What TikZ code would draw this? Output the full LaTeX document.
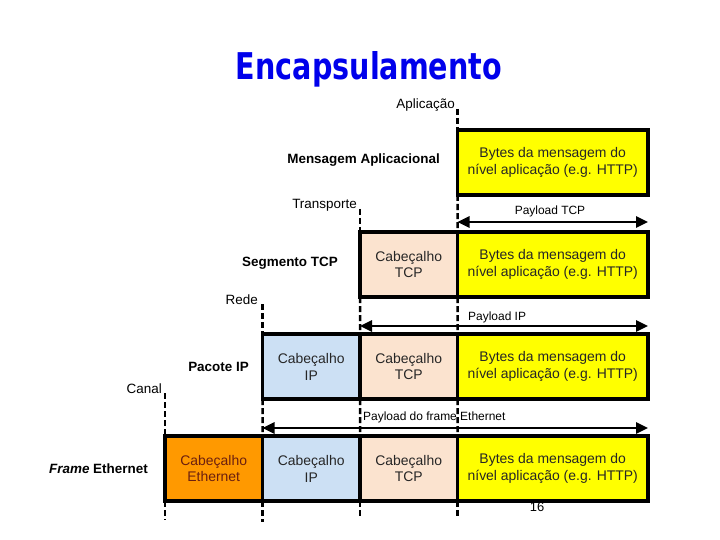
\documentclass[tikz,border=0pt]{standalone}
\usepackage{fontspec}
\setmainfont{Liberation Sans}
\newfontfamily\titlefont{DejaVu Sans}
\usetikzlibrary{arrows.meta}

\definecolor{titleblue}{RGB}{0,0,235}
\definecolor{datayellow}{HTML}{FFFF00}
\definecolor{tcpfill}{HTML}{FBE3CF}
\definecolor{ipfill}{HTML}{CCE0F4}
\definecolor{ethfill}{HTML}{FF9900}
\definecolor{ethtext}{HTML}{6B1F10}

\begin{document}
\begin{tikzpicture}[x=1bp, y=-1bp,
    cell/.style={draw, line width=3.5bp, minimum height=65bp, inner sep=0pt, outer sep=0pt,
                 anchor=north west, align=center, text=black!85, font=\fontsize{14}{17}\selectfont},
    hdrcell/.style={cell, minimum width=97.5bp},
    datacell/.style={cell, fill=datayellow, minimum width=190.5bp},
    layer/.style={inner sep=0pt, font=\fontsize{13.5}{16}\selectfont},
    pdu/.style={inner sep=0pt, anchor=east, font=\bfseries\fontsize{13.5}{16}\selectfont},
    plabel/.style={inner sep=0pt, font=\fontsize{12}{14}\selectfont},
    guide/.style={line width=2.5bp, dash pattern=on 6bp off 3bp},
    span/.style={line width=2.5bp, {Triangle[length=12bp,width=11bp]}-{Triangle[length=12bp,width=11bp]}}]

    \useasboundingbox (0,0) rectangle (720,540);

    % Title
    \node[text=titleblue, inner sep=0pt, anchor=base] (title) at (369,80)
        {\resizebox{266bp}{28bp}{\titlefont\bfseries Encapsulamento}};

    % Page number (partly under the last row)
    \node[font=\fontsize{13}{15}\selectfont, inner sep=0pt] (pageno) at (537,507) {16};

    % Application layer
    \node[pdu] (pduMsg) at (440,160) {Mensagem Aplicacional};
    \node[datacell] (appData) at (457.5,130) {Bytes da mensagem do\\n\'ivel aplica\c{c}\~ao (e.g. HTTP)};

    % Transport layer
    \node[pdu] (pduSeg) at (338,263) {Segmento TCP};
    \node[hdrcell, fill=tcpfill] (tcpHdr) at (360,232) {Cabe\c{c}alho\\TCP};
    \node[datacell] (tcpData) at (tcpHdr.north east) {Bytes da mensagem do\\n\'ivel aplica\c{c}\~ao (e.g. HTTP)};

    % Network layer
    \node[pdu] (pduPkt) at (249,367) {Pacote IP};
    \node[hdrcell, fill=ipfill] (ipHdr) at (262.5,334) {Cabe\c{c}alho\\IP};
    \node[hdrcell, fill=tcpfill] (ipTcp) at (ipHdr.north east) {Cabe\c{c}alho\\TCP};
    \node[datacell] (ipData) at (ipTcp.north east) {Bytes da mensagem do\\n\'ivel aplica\c{c}\~ao (e.g. HTTP)};

    % Link layer
    \node[pdu] (pduFrame) at (148,469) {\itshape Frame\upshape{} Ethernet};
    \node[hdrcell, fill=ethfill, text=ethtext] (ethHdr) at (165,436) {Cabe\c{c}alho\\Ethernet};
    \node[hdrcell, fill=ipfill] (ethIp) at (ethHdr.north east) {Cabe\c{c}alho\\IP};
    \node[hdrcell, fill=tcpfill] (ethTcp) at (ethIp.north east) {Cabe\c{c}alho\\TCP};
    \node[datacell] (ethData) at (ethTcp.north east) {Bytes da mensagem do\\n\'ivel aplica\c{c}\~ao (e.g. HTTP)};

    % Layer names
    \node[layer, anchor=base east] (lApp) at (455,109) {Aplica\c{c}\~ao};
    \node[layer, anchor=base east] (lTransp) at (357,209) {Transporte};
    \node[layer, anchor=base east] (lRede) at (258,304) {Rede};
    \node[layer, anchor=base east] (lCanal) at (162,393) {Canal};

    % Payload labels
    \node[plabel] (pTcp) at (550,211) {Payload TCP};
    \node[plabel, anchor=west] (pIp) at (468,317) {Payload IP};
    \node[plabel, anchor=west] (pEth) at (363,417) {Payload do frame Ethernet};

    % Payload spans
    \draw[span] ([yshift=10bp]tcpData.north west) -- ([yshift=10bp]tcpData.north east);
    \draw[span] ([yshift=8bp]ipTcp.north west) -- ([yshift=8bp]ipData.north east);
    \draw[span] ([yshift=8bp]ethIp.north west) -- ([yshift=8bp]ethData.north east);

    % Dashed guides between the rows
    \draw[guide] (appData.north west |- lApp.base) -- (appData.north west);
    \draw[guide] (appData.south west) -- (tcpData.north west);
    \draw[guide] (tcpHdr.north west |- lTransp.base) -- (tcpHdr.north west);
    \draw[guide] (tcpHdr.south west) -- (ipTcp.north west);
    \draw[guide] (tcpData.south west) -- (ipData.north west);
    \draw[guide] (ipHdr.north west |- lRede.base) -- (ipHdr.north west);
    \draw[guide] (ipHdr.south west) -- (ethIp.north west);
    \draw[guide] (ipTcp.south west) -- (ethTcp.north west);
    \draw[guide] (ipData.south west) -- (ethData.north west);
    \draw[guide] (ethHdr.north west |- lCanal.base) -- (ethHdr.north west);
    \draw[guide] (ethHdr.south west) -- ++(0,19);
    \draw[guide] (ethIp.south west) -- ++(0,21);
    \draw[guide] (ethTcp.south west) -- ++(0,17);
    \draw[guide] (ethData.south west) -- ++(0,16);
\end{tikzpicture}
\end{document}
